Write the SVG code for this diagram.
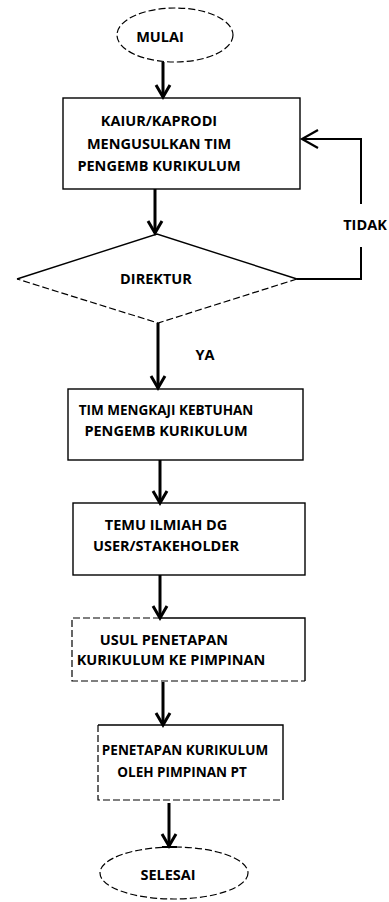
<svg xmlns="http://www.w3.org/2000/svg" width="389" height="902" viewBox="0 0 389 902">
<defs>
<style>
.bg{fill:#ffffff}
.box{fill:none;stroke:#000;stroke-width:1.4}
.dash{fill:none;stroke:#000;stroke-width:1.2;stroke-dasharray:7 3}
.txt{font-family:"Open Sans","Liberation Sans",sans-serif;font-weight:bold;font-size:14.5px;fill:#000;text-anchor:middle}
.sm{font-size:13.5px}
.flow{fill:none;stroke:#000;stroke-width:3}
.back{fill:none;stroke:#000;stroke-width:2}
</style>
<marker id="ah" markerUnits="userSpaceOnUse" markerWidth="30" markerHeight="30" orient="auto" overflow="visible">
<path d="M-12,-7 L0,0 L-12,7" fill="none" stroke="#000" stroke-width="3"/>
</marker>
<marker id="ch" markerUnits="userSpaceOnUse" markerWidth="30" markerHeight="30" orient="auto" overflow="visible">
<path d="M-16,-9 L0,0 L-16,9" fill="none" stroke="#000" stroke-width="2.2"/>
</marker>
</defs>
<rect class="bg" x="0" y="0" width="389" height="902"/>

<g id="connectors">
<path class="flow" d="M163,62 L163,97" marker-end="url(#ah)"/>
<path class="flow" d="M155,189 L155,233" marker-end="url(#ah)"/>
<path class="flow" d="M158,323 L158,388" marker-end="url(#ah)"/>
<path class="flow" d="M160,460 L160,503" marker-end="url(#ah)"/>
<path class="flow" d="M160,575 L160,618" marker-end="url(#ah)"/>
<path class="flow" d="M163,682 L163,725" marker-end="url(#ah)"/>
<path class="flow" d="M169,803 L169,846" marker-end="url(#ah)"/>
<path class="back" d="M162,847 L177,847"/>
<path class="back" d="M297,279 L361,279 L361,247"/>
<path class="back" d="M361,204 L361,139 L302,139" marker-end="url(#ch)"/>
<text class="txt" x="365" y="230" font-size="12.5">TIDAK</text>
<text class="txt" x="205" y="360" font-size="13.5">YA</text>
</g>

<g id="mulai">
<ellipse class="dash" cx="175" cy="35" rx="58" ry="27" stroke-dasharray="12 3"/>
<text class="txt" x="160" y="42">MULAI</text>
</g>

<g id="usul-tim">
<rect class="box" x="63" y="98" width="237" height="91"/>
<text class="txt" x="159" y="126">KAIUR/KAPRODI</text>
<text class="txt" x="159" y="149">MENGUSULKAN TIM</text>
<text class="txt" x="159" y="171">PENGEMB KURIKULUM</text>
</g>

<g id="direktur">
<path class="box" d="M17,279 L157,234 L297,279"/>
<path class="dash" d="M297,279 L158,323 L17,279" stroke-dasharray="6 4"/>
<text class="txt" x="156" y="284">DIREKTUR</text>
</g>

<g id="kaji">
<rect class="box" x="68" y="389" width="235" height="71"/>
<text class="txt sm" x="166" y="415">TIM MENGKAJI KEBTUHAN</text>
<text class="txt" x="166" y="436">PENGEMB KURIKULUM</text>
</g>

<g id="temu">
<rect class="box" x="73" y="503" width="232" height="72"/>
<text class="txt" x="166" y="530">TEMU ILMIAH DG</text>
<text class="txt" x="166" y="551">USER/STAKEHOLDER</text>
</g>

<g id="usul-penetapan">
<path class="box" d="M160,618 L305,618 L305,681"/>
<path class="dash" d="M160,618 L72,618 L72,681 L305,681" stroke-dasharray="6 5"/>
<text class="txt" x="164" y="645">USUL PENETAPAN</text>
<text class="txt" x="171" y="665">KURIKULUM KE PIMPINAN</text>
</g>

<g id="penetapan">
<path class="box" d="M98,725 L283,725 L283,800"/>
<path class="dash" d="M98,725 L98,800 L283,800" stroke-dasharray="4 8"/>
<text class="txt sm" x="185" y="755">PENETAPAN KURIKULUM</text>
<text class="txt sm" x="182" y="777">OLEH PIMPINAN PT</text>
</g>

<g id="selesai">
<ellipse class="dash" cx="174" cy="873" rx="74" ry="26" stroke-dasharray="6 4"/>
<text class="txt" x="168" y="880">SELESAI</text>
</g>
</svg>
